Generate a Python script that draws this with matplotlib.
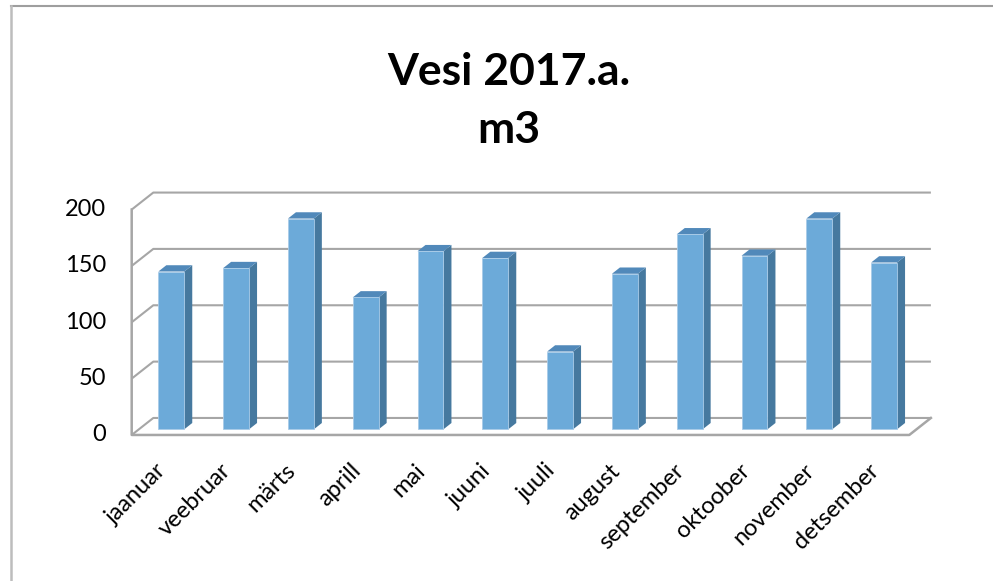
import matplotlib.pyplot as plt
from matplotlib.patches import Polygon
from matplotlib.lines import Line2D

months = ['jaanuar', 'veebruar', 'märts', 'aprill', 'mai', 'juuni',
          'juuli', 'august', 'september', 'oktoober', 'november', 'detsember']
water_m3 = [140, 143, 187, 117, 158, 152, 69, 138, 173, 154, 187, 148]
y_ticks = [0, 50, 100, 150, 200]
title_line1 = 'Vesi 2017.a.'
title_line2 = 'm3'

plt.rcParams['font.family'] = ['Lato', 'DejaVu Sans']

W, H = 993, 581
fig = plt.figure(figsize=(W / 100, H / 100), dpi=100)
ax = fig.add_axes([0, 0, 1, 1])
ax.axis('off')

# pixel scale of the category / value axes (front face of the bars)
x0_px, x_step = 171.3, 64.8
y0_px, y_step = 429.3, 1.127
ax.set_xlim((0 - x0_px) / x_step, (W - x0_px) / x_step)
ax.set_ylim((y0_px - H) / y_step, y0_px / y_step)

# fake 3D: full depth of the floor and bar depth
DX, DY = 21.6 / x_step, 17.0 / y_step
BAR_FRONT = 1 / 3
BAR_DEPTH = 0.37
BAR_W = 0.40
n = len(months)
left, right = -0.5, n - 0.5
ymax = max(y_ticks)


def P(x, v, d):
    return (x + (d - BAR_FRONT) * DX, v + (d - BAR_FRONT) * DY)


grid_color = '#a6a6a6'
# gridlines on side wall and back wall
for t in y_ticks:
    pts = [P(left, t, 0), P(left, t, 1), P(right, t, 1)]
    ax.plot([p[0] for p in pts], [p[1] for p in pts], color=grid_color, lw=1.5,
            solid_capstyle='butt', zorder=1)

# y axis edge and floor
pts = [P(left, ymax, 0), P(left, 0, 0), P(right, 0, 0), P(right, 0, 1)]
ax.plot([p[0] for p in pts], [p[1] for p in pts], color=grid_color, lw=1.8, zorder=2)

# bars
front_c, side_c, top_c = '#6caad9', '#46799f', '#5189ba'
for i, val in enumerate(water_m3):
    a, b = i - BAR_W / 2, i + BAR_W / 2
    d0, d1 = BAR_FRONT, BAR_FRONT + BAR_DEPTH
    front = [P(a, 0, d0), P(b, 0, d0), P(b, val, d0), P(a, val, d0)]
    side = [P(b, 0, d0), P(b, 0, d1), P(b, val, d1), P(b, val, d0)]
    top = [P(a, val, d0), P(b, val, d0), P(b, val, d1), P(a, val, d1)]
    ax.add_patch(Polygon(side, closed=True, fc=side_c, ec='none', zorder=3))
    ax.add_patch(Polygon(top, closed=True, fc=top_c, ec='none', zorder=3))
    ax.add_patch(Polygon(front, closed=True, fc=front_c, ec='#a9cbe8', lw=0.6, zorder=4))

# value labels
for t in y_ticks:
    ax.annotate(str(t), xy=P(left, t, 0), xytext=(-18.5, 0), textcoords='offset points',
                ha='right', va='center', fontsize=17, color='#000000')

# category labels
for i, m in enumerate(months):
    ax.annotate(m, xy=P(i, 0, 0), xytext=(4.5, -18), textcoords='offset points',
                ha='right', va='top', rotation=45, fontsize=17, color='#000000')

# title
fig.text(509 / W, 1 - 72 / H, title_line1, ha='center', va='center',
         fontsize=32, fontweight='bold')
fig.text(509 / W, 1 - 130 / H, title_line2, ha='center', va='center',
         fontsize=32, fontweight='bold')

# chart border (only top and left visible)
fig.add_artist(Line2D([11 / W, 1], [1 - 6 / H, 1 - 6 / H], color='#9e9e9e', lw=1.5))
fig.add_artist(Line2D([11 / W, 11 / W], [0, 1 - 6 / H], color='#bdbdbd', lw=1.8))

fig.savefig('out.png', dpi=100)
